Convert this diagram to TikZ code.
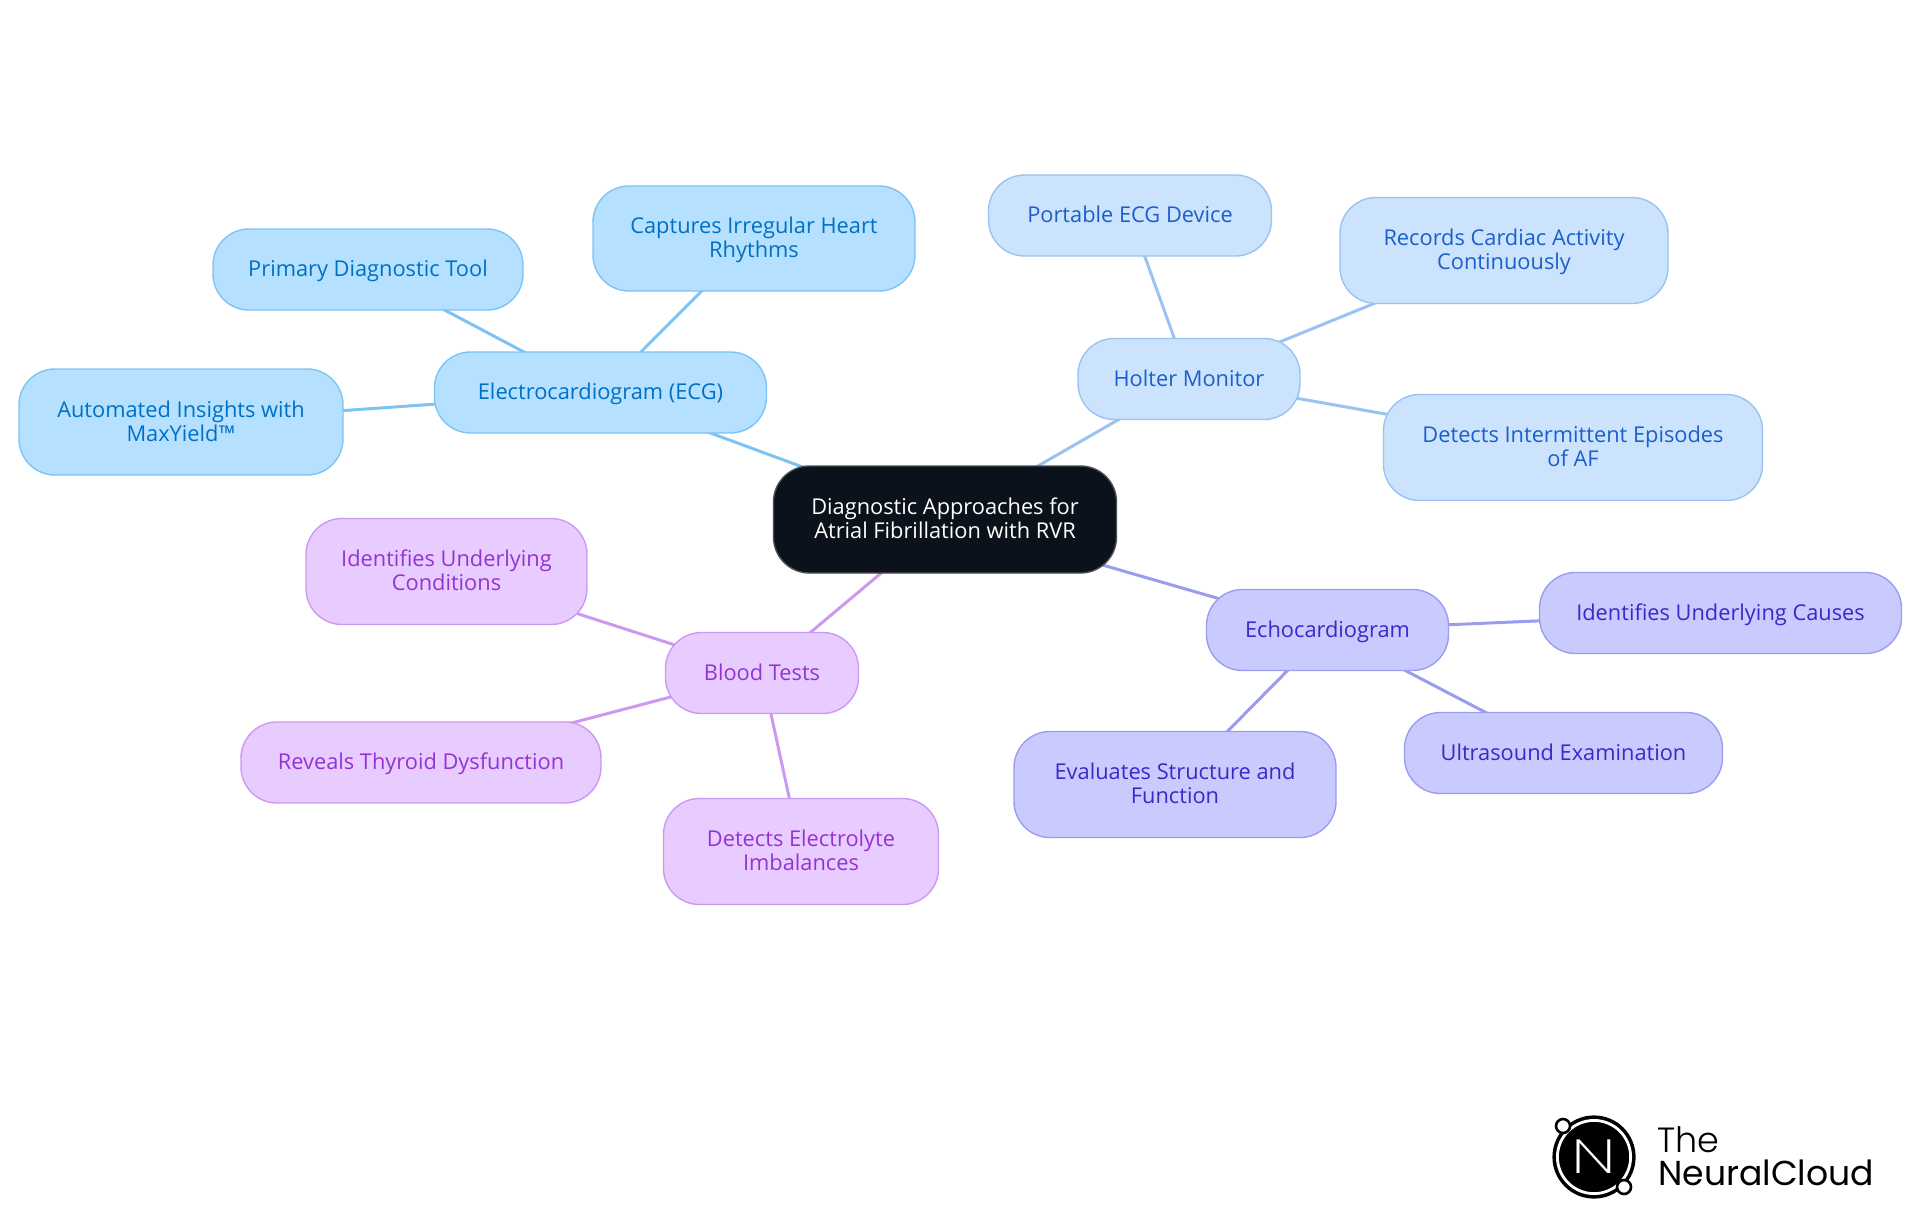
\documentclass[tikz,border=0pt]{standalone}
\usepackage{fontspec}
\setmainfont{Open Sans}
\newfontfamily\logofont{Poppins Light}
\newfontfamily\logobold{Poppins}
\newfontfamily\logothin{Poppins ExtraLight}
\usetikzlibrary{backgrounds}
\definecolor{rootfill}{HTML}{0B121B}
\definecolor{rootline}{HTML}{4A4F55}
\definecolor{ecgfill}{HTML}{B5E0FF}
\definecolor{ecgline}{HTML}{7FC3F3}
\definecolor{ecgtext}{HTML}{0070C4}
\definecolor{holterfill}{HTML}{CCE3FD}
\definecolor{holterline}{HTML}{99C3F1}
\definecolor{holtertext}{HTML}{1A5FCC}
\definecolor{echofill}{HTML}{C9CBFF}
\definecolor{echoline}{HTML}{9A9CF0}
\definecolor{echotext}{HTML}{3A28C8}
\definecolor{bloodfill}{HTML}{E8CBFF}
\definecolor{bloodline}{HTML}{CC99F0}
\definecolor{bloodtext}{HTML}{9333D6}
\newcommand{\maplines}[2]{\rule{0pt}{10.9pt}#1\\#2\rule[-3.66pt]{0pt}{3.66pt}}
\newcommand{\mapline}[1]{\rule{0pt}{10.9pt}#1\rule[-3.66pt]{0pt}{3.66pt}}
\tikzset{
  mapnode/.style={rounded corners=18pt, align=center, inner sep=0pt, line width=0.7pt,
    font=\fontsize{10.9}{12.2}\selectfont},
  sized/.style 2 args={minimum width=#1*0.5pt, minimum height=#2*0.5pt},
  rootnode/.style={mapnode, draw=rootline, fill=rootfill, text=white},
  ecgnode/.style={mapnode, draw=ecgline, fill=ecgfill, text=ecgtext},
  holternode/.style={mapnode, draw=holterline, fill=holterfill, text=holtertext},
  echonode/.style={mapnode, draw=echoline, fill=echofill, text=echotext},
  bloodnode/.style={mapnode, draw=bloodline, fill=bloodfill, text=bloodtext},
  link/.style={line width=1.5pt}
}
\begin{document}
\begin{tikzpicture}[x=0.5pt, y=-0.5pt]
    \useasboundingbox (0,0) rectangle (1920,1215);

    \node[rootnode, sized={343}{107}] (root) at (945,519.5) {\maplines{Diagnostic Approaches for}{Atrial Fibrillation with RVR}};

    \node[ecgnode, sized={332}{81}] (ecg) at (600.5,392.5) {\mapline{Electrocardiogram (ECG)}};
    \node[ecgnode, sized={324}{106}] (maxyield) at (181,422) {\maplines{Automated Insights with}{MaxYield™}};
    \node[ecgnode, sized={310}{81}] (primary) at (368,269.5) {\mapline{Primary Diagnostic Tool}};
    \node[ecgnode, sized={322}{105}] (captures) at (754,238.5) {\maplines{Captures Irregular Heart}{Rhythms}};

    \node[holternode, sized={222}{81}] (holter) at (1189,379) {\mapline{Holter Monitor}};
    \node[holternode, sized={283}{81}] (portable) at (1130,215.5) {\mapline{Portable ECG Device}};
    \node[holternode, sized={328}{106}] (records) at (1504,250.5) {\maplines{Records Cardiac Activity}{Continuously}};
    \node[holternode, sized={379}{106}] (episodes) at (1573,447.5) {\maplines{Detects Intermittent Episodes}{of AF}};

    \node[echonode, sized={242}{81}] (echo) at (1327.5,630) {\mapline{Echocardiogram}};
    \node[echonode, sized={362}{81}] (causes) at (1720.5,613) {\mapline{Identifies Underlying Causes}};
    \node[echonode, sized={318}{81}] (ultrasound) at (1563.5,753) {\mapline{Ultrasound Examination}};
    \node[echonode, sized={322}{106}] (evaluates) at (1175,784.5) {\maplines{Evaluates Structure and}{Function}};

    \node[bloodnode, sized={193}{81}] (blood) at (762,673) {\mapline{Blood Tests}};
    \node[bloodnode, sized={281}{106}] (conditions) at (446.5,571.5) {\maplines{Identifies Underlying}{Conditions}};
    \node[bloodnode, sized={360}{81}] (thyroid) at (421,762.5) {\mapline{Reveals Thyroid Dysfunction}};
    \node[bloodnode, sized={275}{106}] (electrolyte) at (801,851.5) {\maplines{Detects Electrolyte}{Imbalances}};

    \begin{scope}[on background layer]
        \draw[link, ecgline] (root.center) -- (ecg.center);
        \draw[link, ecgline] (ecg.center) -- (maxyield.center);
        \draw[link, ecgline] (ecg.center) -- (primary.center);
        \draw[link, ecgline] (ecg.center) -- (captures.center);
        \draw[link, holterline] (root.center) -- (holter.center);
        \draw[link, holterline] (holter.center) -- (portable.center);
        \draw[link, holterline] (holter.center) -- (records.center);
        \draw[link, holterline] (holter.center) -- (episodes.center);
        \draw[link, echoline] (root.center) -- (echo.center);
        \draw[link, echoline] (echo.center) -- (causes.center);
        \draw[link, echoline] (echo.center) -- (ultrasound.center);
        \draw[link, echoline] (echo.center) -- (evaluates.center);
        \draw[link, bloodline] (root.center) -- (blood.center);
        \draw[link, bloodline] (blood.center) -- (conditions.center);
        \draw[link, bloodline] (blood.center) -- (thyroid.center);
        \draw[link, bloodline] (blood.center) -- (electrolyte.center);
    \end{scope}

    % logo
    \node[circle, draw=black, fill=black, line width=1.6pt, minimum size=40pt, inner sep=0pt] (logoring) at (1594,1157) {};
    \node[circle, draw=white, line width=1.4pt, minimum size=36.6pt, inner sep=0pt, font=\logothin\fontsize{24}{24}\selectfont, text=white] (logodisc) at (1594,1157) {\scalebox{1.4}[1]{N}};
    \node[circle, draw=black, fill=white, line width=1.3pt, minimum size=7pt, inner sep=0pt] (logotop) at (1563,1126) {};
    \node[circle, draw=black, fill=white, line width=1.3pt, minimum size=7pt, inner sep=0pt] (logobottom) at (1624,1187) {};
    \node[anchor=base west, inner sep=0pt, font=\logofont\fontsize{17.5}{17.5}\selectfont] (logothe) at (1657,1152) {The};
    \node[anchor=base west, inner sep=0pt, font=\logobold\fontsize{17.3}{17.3}\selectfont] (logoname) at (1658,1185) {NeuralCloud};
\end{tikzpicture}
\end{document}
